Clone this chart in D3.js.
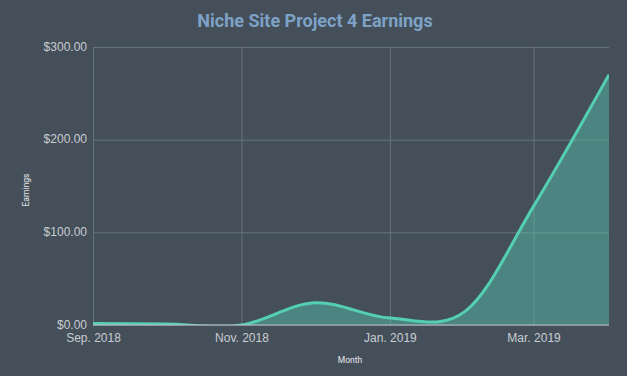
<!DOCTYPE html>
<html>
<head>
<meta charset="utf-8">
<script src="https://cdn.jsdelivr.net/npm/d3@7"></script>
<style>
  body { margin: 0; background: #444f5a; }
  svg { display: block; font-family: Roboto, "Open Sans", sans-serif; }
</style>
</head>
<body>
<svg width="627" height="376"></svg>
<script>
// data (monthly earnings)
const months = ["2018-09-01", "2018-10-01", "2018-11-01", "2018-12-01",
  "2019-01-01", "2019-02-01", "2019-03-01", "2019-04-01"];
const earnings = [1.5, 1, 0, 24, 7.5, 15, 128, 270];
const yTicks = [0, 100, 200, 300];
const xTicks = ["2018-09-01", "2018-11-01", "2019-01-01", "2019-03-01"];

const parse = d3.timeParse("%Y-%m-%d");
const dataset = months.map((m, i) => ({ date: parse(m), value: earnings[i] }));

const bg = "#444f5a",
  grid = "#66727d",
  line = "#55cfb4",
  label = "#c9cdd1";

const svg = d3.select("svg");
svg.append("rect").attr("width", 627).attr("height", 376).attr("fill", bg);

// scales
const xScale = d3.scaleTime()
  .domain(d3.extent(dataset, (d) => d.date))
  .range([93, 609]);
const yScale = d3.scaleLinear().domain([0, 300]).range([325, 47]);

// gridlines
const yAxis = d3.axisLeft(yScale)
  .tickValues(yTicks)
  .tickSize(-(609 - 93))
  .tickPadding(6)
  .tickFormat((d) => "$" + d3.format(",.2f")(d));
const yG = svg.append("g").attr("transform", "translate(93,0)").call(yAxis);
yG.select("path.domain").remove();
yG.selectAll("line").attr("stroke", grid);
yG.selectAll("text").attr("fill", label).style("font-size", "12px").attr("dy", "0.25em");

const xAxis = d3.axisBottom(xScale)
  .tickValues(xTicks.map(parse))
  .tickSize(-(325 - 47))
  .tickPadding(8)
  .tickFormat(d3.timeFormat("%b. %Y"));
const xG = svg.append("g").attr("transform", "translate(0,325)").call(xAxis);
xG.select("path.domain").remove();
xG.selectAll("line").attr("stroke", grid);
xG.selectAll("text").attr("fill", label).style("font-size", "12px");

// area + line
const curve = d3.curveCardinal.tension(0);
const area = d3.area()
  .x((d) => xScale(d.date))
  .y0(yScale(0))
  .y1((d) => yScale(Math.max(0, d.value)))
  .curve(curve);
const lineGen = d3.line()
  .x((d) => xScale(d.date))
  .y((d) => yScale(d.value))
  .curve(curve);

svg.append("clipPath").attr("id", "plot")
  .append("rect").attr("x", 93).attr("y", 40).attr("width", 516).attr("height", 285);

svg.append("path")
  .datum(dataset)
  .attr("d", area)
  .attr("fill", line)
  .attr("fill-opacity", 0.42)
  .attr("clip-path", "url(#plot)");

svg.append("path")
  .datum(dataset)
  .attr("d", lineGen)
  .attr("fill", "none")
  .attr("stroke", line)
  .attr("stroke-width", 3)
  .attr("clip-path", "url(#plot)");

// baseline
svg.append("line")
  .attr("x1", 93).attr("x2", 609)
  .attr("y1", yScale(0)).attr("y2", yScale(0))
  .attr("stroke", "#b9bfc4").attr("stroke-width", 1.2);

// titles
svg.append("text")
  .attr("x", 315).attr("y", 27)
  .attr("text-anchor", "middle")
  .attr("fill", "#7ea2c6")
  .style("font-size", "18px")
  .style("font-weight", "bold")
  .text("Niche Site Project 4 Earnings");

svg.append("text")
  .attr("transform", "translate(29,190) rotate(-90)")
  .attr("text-anchor", "middle")
  .attr("fill", "#e6e8ea")
  .style("font-size", "8.5px")
  .text("Earnings");

svg.append("text")
  .attr("x", 350).attr("y", 363)
  .attr("text-anchor", "middle")
  .attr("fill", "#e6e8ea")
  .style("font-size", "8.5px")
  .text("Month");
</script>
</body>
</html>
